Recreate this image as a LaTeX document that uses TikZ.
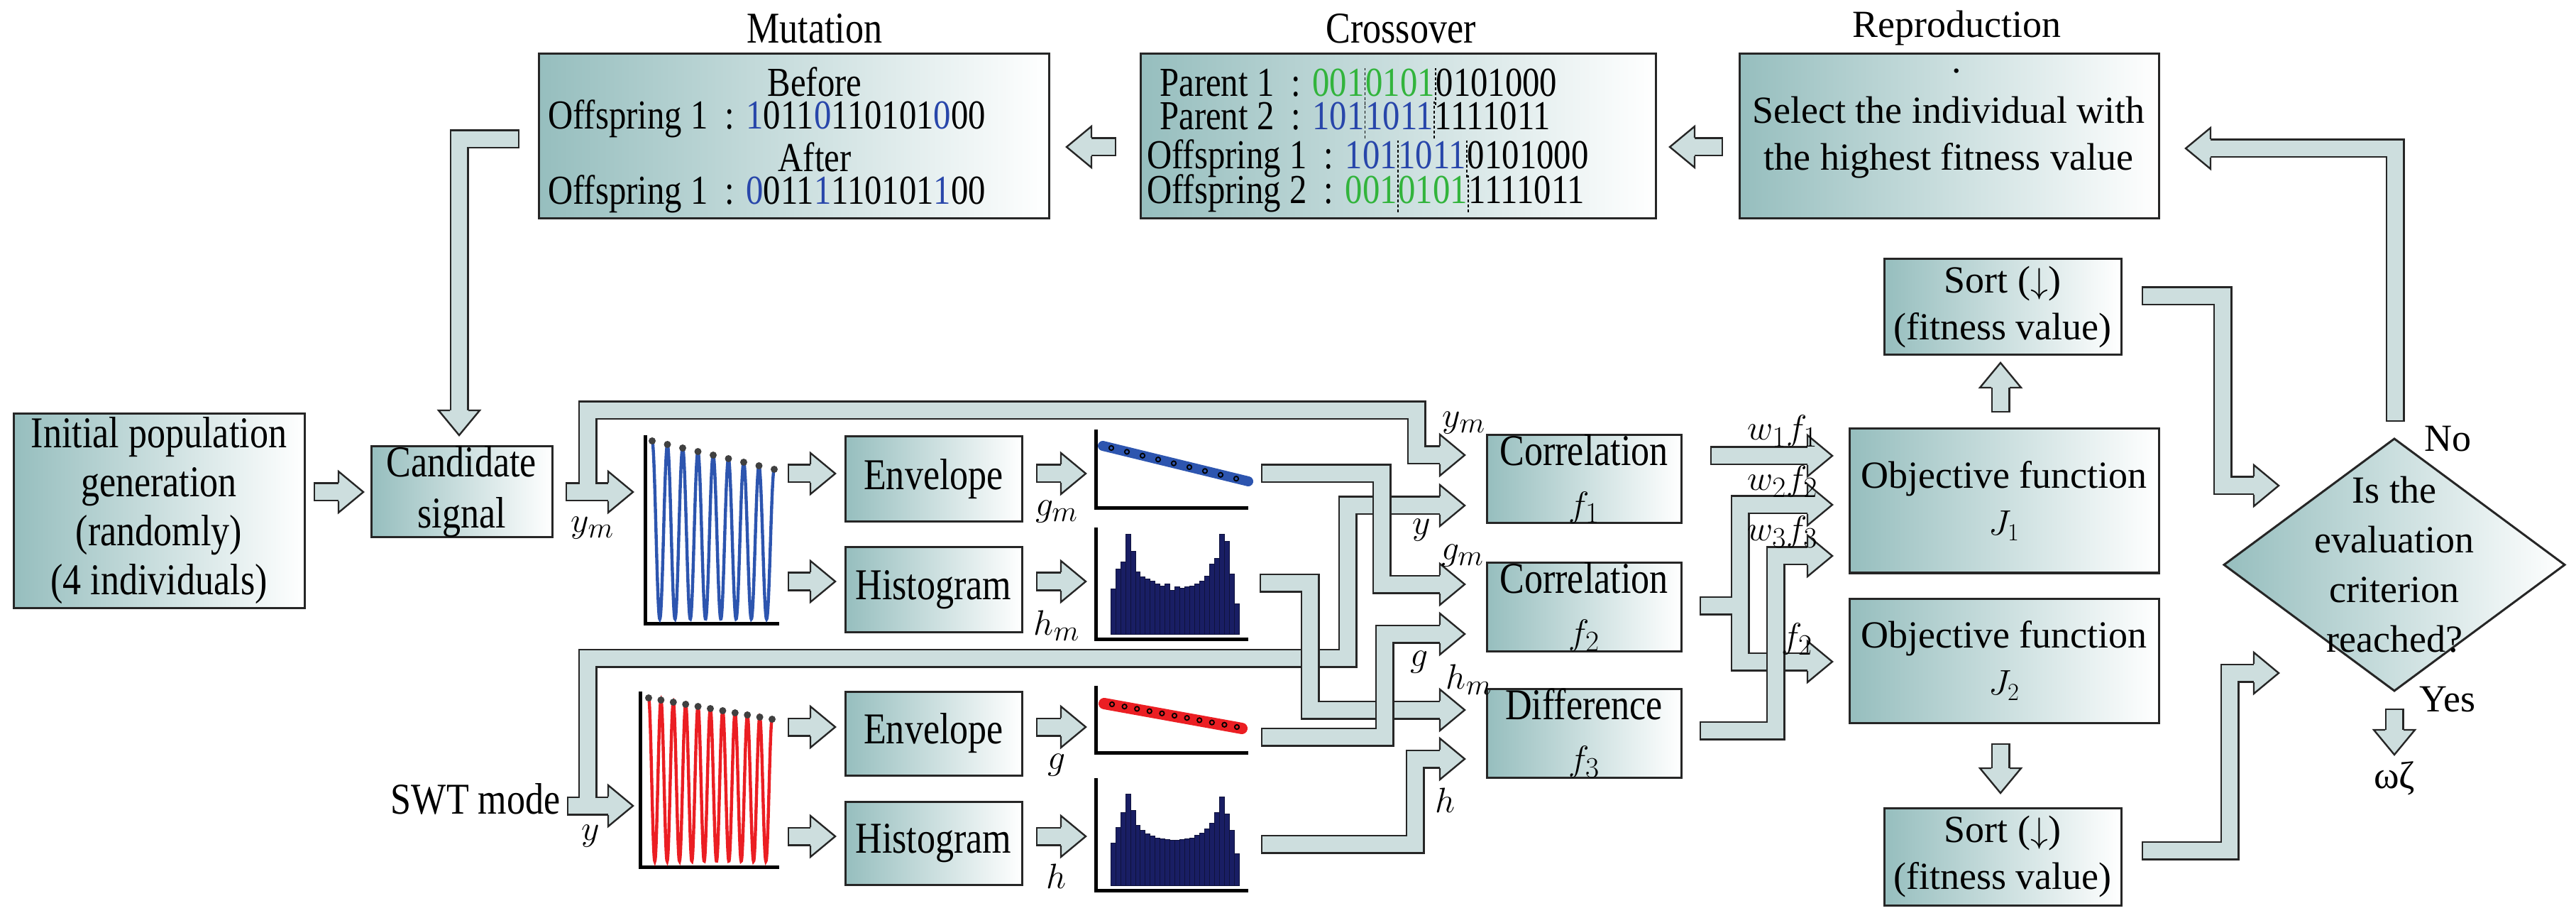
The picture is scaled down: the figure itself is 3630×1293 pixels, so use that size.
\documentclass[tikz,border=0pt]{standalone}
\usepackage{fontspec}
\setmainfont{Liberation Serif}
\newfontfamily\condf{Liberation Serif}[FakeStretch=0.84]
\newfontfamily\widef{Liberation Serif}
\begin{document}
\definecolor{boxc}{RGB}{150,190,190}
\definecolor{pipec}{RGB}{205,222,222}
\definecolor{blueT}{RGB}{40,70,170}
\definecolor{greenT}{RGB}{50,180,60}
\definecolor{wblue}{RGB}{45,85,175}
\definecolor{wred}{RGB}{235,30,35}
\definecolor{navy}{RGB}{25,30,100}
\newcommand\sepd{\tikz[baseline=0pt]\draw[dash pattern=on 2pt off 1.5pt,line width=0.9pt](0pt,-6pt)--(0pt,20pt);}
\newcommand\hR[2]{\filldraw[head] ({#1-35},{#2-13})--({#1-35},{#2-29})--(#1,#2)--({#1-35},{#2+29})--({#1-35},{#2+13});}
\newcommand\hL[2]{\filldraw[head] ({#1+35},{#2-13})--({#1+35},{#2-29})--(#1,#2)--({#1+35},{#2+29})--({#1+35},{#2+13});}
\newcommand\hU[2]{\filldraw[head] ({#1-13},{#2+35})--({#1-29},{#2+35})--(#1,#2)--({#1+29},{#2+35})--({#1+13},{#2+35});}
\newcommand\hD[2]{\filldraw[head] ({#1-13},{#2-35})--({#1-29},{#2-35})--(#1,#2)--({#1+29},{#2-35})--({#1+13},{#2-35});}
\begin{tikzpicture}[x=0.5pt,y=-0.5pt,
  every node/.style={font=\condf\fontsize{31}{31}\selectfont},
  small/.style={font=\condf\fontsize{29}{29}\selectfont},
  wide/.style={font=\widef\fontsize{27}{33}\selectfont},
  box/.style={draw=black!85,line width=1.5pt,left color=boxc,right color=white,inner sep=0pt,align=center},
  pipeO/.style={draw=black!85,line width=13.5pt,line join=miter},
  pipeI/.style={draw=pipec,line width=11pt,line join=miter,shorten <=1.2pt},
  head/.style={fill=pipec,draw=black!85,line width=1.2pt,line join=miter},
  lab/.style={inner sep=0pt},
  axis/.style={line width=2.5pt,black}]
\useasboundingbox (0,0) rectangle (3630,1293);
% titles
\node[lab] (tmut) at (1148,40) {Mutation};
\node[lab] (tcro) at (1974,40) {Crossover};
\node[lab,wide] (trep) at (2757,40) {Reproduction};
% top boxes
\node[box,minimum width=359.5pt,minimum height=116pt] (mut) at (1118.5,192) {};
\node[box,minimum width=363pt,minimum height=116pt] (cro) at (1970,192) {};
\node[box,minimum width=295.5pt,minimum height=116pt] (rep) at (2746.5,192) {};
\node[lab,small] (mb) at (1148,115) {Before};
\node[lab,small,anchor=west] (m1) at (772,167) {Offspring 1\ \ : \textcolor{blueT}{1}011\textcolor{blueT}{0}110101\textcolor{blueT}{0}00};
\node[lab,small] (ma) at (1148,221) {After};
\node[lab,small,anchor=west] (m2) at (772,273) {Offspring 1\ \ : \textcolor{blueT}{0}011\textcolor{blueT}{1}110101\textcolor{blueT}{1}00};
\node[lab,small,anchor=west] (c1) at (1634,122) {Parent 1\ \ : \textcolor{greenT}{001}\sepd\textcolor{greenT}{0101}\sepd0101000};
\node[lab,small,anchor=west] (c2) at (1634,169) {Parent 2\ \ : \textcolor{blueT}{101}\sepd\textcolor{blueT}{1011}\sepd1111011};
\node[lab,small,anchor=west] (c3) at (1616,224) {Offspring 1\ \ : \textcolor{blueT}{101}\sepd\textcolor{blueT}{1011}\sepd0101000};
\node[lab,small,anchor=west] (c4) at (1616,273) {Offspring 2\ \ : \textcolor{greenT}{001}\sepd\textcolor{greenT}{0101}\sepd1111011};
\node[lab,wide] (rdot) at (2757,100) {.};
\node[lab,wide,align=center] (rt) at (2746,194) {Select the individual with\\the highest fitness value};
% left boxes
\node[box,font=\condf\fontsize{31}{34.5}\selectfont,minimum width=205pt,minimum height=136.5pt] (init) at (224,719.5) {Initial population\\generation\\(randomly)\\(4 individuals)};
\node[box,font=\condf\fontsize{31}{36}\selectfont,minimum width=127.5pt,minimum height=61.5pt] (cand) at (650.5,692.5) {Candidate\\signal};
\node[box,minimum width=124.5pt,minimum height=60pt] (env1) at (1315.5,675) {Envelope};
\node[box,minimum width=124.5pt,minimum height=59.5pt] (his1) at (1315.5,830.5) {Histogram};
\node[box,minimum width=124.5pt,minimum height=59pt] (env2) at (1315.5,1033) {Envelope};
\node[box,minimum width=124.5pt,minimum height=58.5pt] (his2) at (1315.5,1187.5) {Histogram};
\node[lab,anchor=east] (swt) at (790,1125) {SWT mode};
% middle boxes
\node[box,font=\condf\fontsize{31}{36}\selectfont,minimum width=137pt,minimum height=59.5pt] (cor1) at (2232,674.5) {Correlation\\$f_1$};
\node[box,font=\condf\fontsize{31}{36}\selectfont,minimum width=137pt,minimum height=59pt] (cor2) at (2232,855) {Correlation\\$f_2$};
\node[box,font=\condf\fontsize{31}{36}\selectfont,minimum width=137pt,minimum height=59pt] (dif) at (2232,1033) {Difference\\$f_3$};
\node[box,wide,minimum width=218pt,minimum height=101.5pt] (J1) at (2824,705.5) {Objective function\\$J_1$};
\node[box,wide,minimum width=218pt,minimum height=87.5pt] (J2) at (2824,930.5) {Objective function\\$J_2$};
\node[box,wide,minimum width=167pt,minimum height=67.5pt] (s1) at (2822,432.5) {Sort ($\downarrow$)\\(fitness value)};
\node[box,wide,minimum width=167pt,minimum height=68.5pt] (s2) at (2822,1206.5) {Sort ($\downarrow$)\\(fitness value)};
% diamond
\draw[line width=1.5pt,draw=black!85,left color=boxc,right color=white] (3134,795.5)--(3374,618)--(3614,795.5)--(3374,973)--cycle;
\node[lab,wide,align=center,font=\widef\fontsize{27}{35}\selectfont] (dia) at (3374,795.5) {Is the\\evaluation\\criterion\\reached?};
\node[lab,wide] (no) at (3449,618) {No};
\node[lab,wide] (yes) at (3449,985) {Yes};
\node[lab,wide] (wz) at (3374,1096) {ωζ};
% plots: waveforms
\draw[axis] (909,613)--(909,878)--(1098,878);
\draw[wblue,line width=2.2pt] plot[domain=0:8,samples=400,smooth] ({919+21.5*\x},{872-(872-(621+5*\x))*(1+cos(360*\x))/2});
\foreach \i in {0,...,8} \fill[black!75] ({919+21.5*\i},{621+5*\i}) circle (5);
\draw[axis] (902,974)--(902,1221)--(1098,1221);
\draw[wred,line width=2.2pt] plot[domain=0:10,samples=400,smooth] ({914+17.4*\x},{1213-(1213-(983+3*\x))*(1+cos(360*\x))/2});
\foreach \i in {0,...,10} \fill[black!75] ({914+17.4*\i},{983+3*\i}) circle (5);
% envelope plots
\draw[axis] (1544,605)--(1544,716)--(1759,716);
\draw[wblue,line width=7pt,line cap=round] (1554,628)--(1759,678);
\foreach \i in {0,...,8} \draw[black,line width=0.9pt] ({1566+22*\i},{631+5.4*\i}) circle (3.2);
\draw[axis] (1544,966)--(1544,1060)--(1759,1060);
\draw[wred,line width=8pt,line cap=round] (1556,991)--(1750,1026);
\foreach \i in {0,...,10} \draw[black,line width=0.9pt] ({1567+17.6*\i},{992+3.2*\i}) circle (3.2);
% histograms
\def\hvals{0.45,0.65,0.72,1.0,0.83,0.62,0.57,0.55,0.53,0.5,0.48,0.5,0.44,0.47,0.46,0.47,0.48,0.5,0.53,0.58,0.7,0.76,1.0,0.93,0.6,0.3}
\draw[axis] (1544,743)--(1544,900)--(1759,900);
\foreach \h [count=\c from 0] in \hvals \filldraw[fill=navy,draw=navy!60!black,line width=0.3pt] ({1565+6.96*\c},893) rectangle ({1565+6.96*(\c+1)},{893-141*\h});
\draw[axis] (1544,1096)--(1544,1254)--(1759,1254);
\def\hvalsb{0.46,0.63,0.8,1.0,0.82,0.66,0.6,0.56,0.54,0.52,0.51,0.5,0.49,0.49,0.5,0.51,0.52,0.55,0.57,0.62,0.68,0.8,0.97,0.78,0.6,0.35}
\foreach \h [count=\c from 0] in \hvalsb \filldraw[fill=navy,draw=navy!60!black,line width=0.3pt] ({1565+6.96*\c},1247) rectangle ({1565+6.96*(\c+1)},{1247-129*\h});
% ---- pipes ----
\draw[pipeO] (442,693)--(478,693); \draw[pipeI] (442,693)--(478,693); \hR{512}{693}
\def\P{(732,196)--(647,196)--(647,579)}
\draw[pipeO]\P; \draw[pipeI]\P; \hD{647}{613}
\draw[pipeO] (1573,207)--(1537,207); \draw[pipeI] (1573,207)--(1537,207); \hL{1503}{207}
\draw[pipeO] (2428,207)--(2387,207); \draw[pipeI] (2428,207)--(2387,207); \hL{2353}{207}
\def\Pa{(799,1135)--(858,1135)}
\def\Pb{(799,1135)--(828,1135)--(828,927)--(1899,927)--(1899,712)--(2030,712)}
\draw[pipeO]\Pa; \draw[pipeO]\Pb; \draw[pipeI]\Pa; \draw[pipeI]\Pb; \hR{892}{1135} \hR{2064}{712}
\def\Pa{(797,693)--(858,693)}
\def\Pb{(797,693)--(828,693)--(828,578)--(1996,578)--(1996,641)--(2030,641)}
\draw[pipeO]\Pa; \draw[pipeO]\Pb; \draw[pipeI]\Pa; \draw[pipeI]\Pb; \hR{892}{693} \hR{2064}{641}
\foreach \yy in {667,819,1024,1178} {
  \draw[pipeO] (1110,\yy)--(1143,\yy); \draw[pipeI] (1110,\yy)--(1143,\yy); \hR{1177}{\yy}
  \draw[pipeO] (1460,\yy)--(1496,\yy); \draw[pipeI] (1460,\yy)--(1496,\yy); \hR{1530}{\yy}
}
\def\P{(1777,667)--(1947,667)--(1947,823)--(2030,823)}
\draw[pipeO]\P; \draw[pipeI]\P; \hR{2064}{823}
\def\P{(1775,821)--(1846,821)--(1846,1000)--(2030,1000)}
\draw[pipeO]\P; \draw[pipeI]\P; \hR{2064}{1000}
\def\P{(1777,1038)--(1951,1038)--(1951,893)--(2030,893)}
\draw[pipeO]\P; \draw[pipeI]\P; \hR{2064}{893}
\def\P{(1777,1189)--(1994,1189)--(1994,1069)--(2030,1069)}
\draw[pipeO]\P; \draw[pipeI]\P; \hR{2064}{1069}
\draw[pipeO] (2410,642)--(2548,642); \draw[pipeI] (2410,642)--(2548,642); \hR{2582}{642}
\def\Pa{(2395,853)--(2452,853)--(2452,711)--(2548,711)}
\def\Pb{(2452,853)--(2452,932)--(2548,932)}
\draw[pipeO]\Pa; \draw[pipeO]\Pb; \draw[pipeI]\Pa; \draw[pipeI]\Pb; \hR{2582}{711} \hR{2582}{932}
\def\P{(2395,1029)--(2502,1029)--(2502,783)--(2548,783)}
\draw[pipeO]\P; \draw[pipeI]\P; \hR{2582}{783}
\draw[pipeO] (2819,581)--(2819,545); \draw[pipeI] (2819,581)--(2819,545); \hU{2819}{511}
\draw[pipeO] (2819,1047)--(2819,1083); \draw[pipeI] (2819,1047)--(2819,1083); \hD{2819}{1117}
\def\P{(3018,417)--(3132,417)--(3132,684)--(3177,684)}
\draw[pipeO]\P; \draw[pipeI]\P; \hR{3211}{684}
\def\P{(3018,1198)--(3142,1198)--(3142,948)--(3177,948)}
\draw[pipeO]\P; \draw[pipeI]\P; \hR{3211}{948}
\def\P{(3375,594)--(3375,209)--(3114,209)}
\draw[pipeO]\P; \draw[pipeI]\P; \hL{3080}{209}
\draw[pipeO] (3374,998)--(3374,1029); \draw[pipeI] (3374,998)--(3374,1029); \hD{3374}{1063}
% labels
\node[lab] (l1) at (835,744) {$y_m$};
\node[lab] (l2) at (832,1178) {$y$};
\node[lab] (l3) at (1489,721) {$g_m$};
\node[lab] (l4) at (1489,881) {$h_m$};
\node[lab] (l5) at (1489,1078) {$g$};
\node[lab] (l6) at (1489,1234) {$h$};
\node[lab] (l7) at (2063,596) {$y_m$};
\node[lab] (l8) at (2003,747) {$y$};
\node[lab] (l9) at (2061,783) {$g_m$};
\node[lab] (l10) at (2000,933) {$g$};
\node[lab] (l11) at (2070,957) {$h_m$};
\node[lab] (l12) at (2036,1127) {$h$};
\node[lab] (l13) at (2512,607) {$w_1 f_1$};
\node[lab] (l14) at (2512,678) {$w_2 f_2$};
\node[lab] (l15) at (2512,749) {$w_3 f_3$};
\node[lab] (l16) at (2532,900) {$f_2$};
\end{tikzpicture}
\end{document}
